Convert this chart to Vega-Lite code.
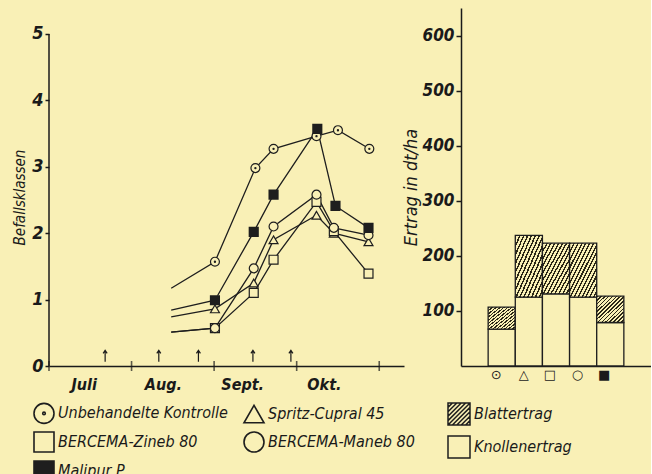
{
  "$schema": "https://vega.github.io/schema/vega-lite/v6.json",
  "background": "#f9f0b6",
  "padding": {"left": 12, "top": 8, "right": 0, "bottom": 0},
  "spacing": -13,
  "resolve": {"scale": {"shape": "independent"}, "legend": {"shape": "independent"}},
  "config": {
    "view": {"stroke": null},
    "font": "Liberation Sans Narrow, DejaVu Sans Condensed, sans-serif",
    "axis": {
      "grid": false,
      "domainColor": "#1a1a1a",
      "tickColor": "#1a1a1a",
      "labelColor": "#1a1a1a",
      "titleColor": "#1a1a1a",
      "labelFont": "Liberation Sans Narrow, DejaVu Sans Condensed, sans-serif",
      "titleFont": "Liberation Sans Narrow, DejaVu Sans Condensed, sans-serif",
      "labelFontStyle": "italic",
      "titleFontStyle": "italic",
      "labelFontWeight": "bold",
      "titleFontWeight": "normal",
      "domainWidth": 1.5,
      "tickWidth": 1.5
    },
    "legend": {
      "labelFont": "Liberation Sans Narrow, DejaVu Sans Condensed, sans-serif",
      "labelFontStyle": "italic",
      "labelColor": "#1a1a1a",
      "labelFontSize": 16,
      "labelLimit": 400,
      "padding": 0
    }
  },
  "datasets": {
    "befall": [
      {"mittel": "Unbehandelte Kontrolle", "zeit": 1.48, "befall": 1.17, "typ": "Anschluss"},
      {"mittel": "Unbehandelte Kontrolle", "zeit": 2.01, "befall": 1.57, "typ": "Messung"},
      {"mittel": "Unbehandelte Kontrolle", "zeit": 2.5, "befall": 2.98, "typ": "Messung"},
      {"mittel": "Unbehandelte Kontrolle", "zeit": 2.72, "befall": 3.27, "typ": "Messung"},
      {"mittel": "Unbehandelte Kontrolle", "zeit": 3.24, "befall": 3.46, "typ": "Messung"},
      {"mittel": "Unbehandelte Kontrolle", "zeit": 3.5, "befall": 3.55, "typ": "Messung"},
      {"mittel": "Unbehandelte Kontrolle", "zeit": 3.88, "befall": 3.27, "typ": "Messung"},
      {"mittel": "Spritz-Cupral 45", "zeit": 1.48, "befall": 0.74, "typ": "Anschluss"},
      {"mittel": "Spritz-Cupral 45", "zeit": 2.01, "befall": 0.86, "typ": "Messung"},
      {"mittel": "Spritz-Cupral 45", "zeit": 2.48, "befall": 1.25, "typ": "Messung"},
      {"mittel": "Spritz-Cupral 45", "zeit": 2.72, "befall": 1.9, "typ": "Messung"},
      {"mittel": "Spritz-Cupral 45", "zeit": 3.24, "befall": 2.27, "typ": "Messung"},
      {"mittel": "Spritz-Cupral 45", "zeit": 3.45, "befall": 2.0, "typ": "Messung"},
      {"mittel": "Spritz-Cupral 45", "zeit": 3.87, "befall": 1.87, "typ": "Messung"},
      {"mittel": "BERCEMA-Zineb 80", "zeit": 1.48, "befall": 0.51, "typ": "Anschluss"},
      {"mittel": "BERCEMA-Zineb 80", "zeit": 2.01, "befall": 0.57, "typ": "Messung"},
      {"mittel": "BERCEMA-Zineb 80", "zeit": 2.48, "befall": 1.1, "typ": "Messung"},
      {"mittel": "BERCEMA-Zineb 80", "zeit": 2.72, "befall": 1.6, "typ": "Messung"},
      {"mittel": "BERCEMA-Zineb 80", "zeit": 3.24, "befall": 2.47, "typ": "Messung"},
      {"mittel": "BERCEMA-Zineb 80", "zeit": 3.45, "befall": 2.03, "typ": "Messung"},
      {"mittel": "BERCEMA-Zineb 80", "zeit": 3.87, "befall": 1.39, "typ": "Messung"},
      {"mittel": "BERCEMA-Maneb 80", "zeit": 1.48, "befall": 0.51, "typ": "Anschluss"},
      {"mittel": "BERCEMA-Maneb 80", "zeit": 2.01, "befall": 0.57, "typ": "Messung"},
      {"mittel": "BERCEMA-Maneb 80", "zeit": 2.48, "befall": 1.47, "typ": "Messung"},
      {"mittel": "BERCEMA-Maneb 80", "zeit": 2.72, "befall": 2.1, "typ": "Messung"},
      {"mittel": "BERCEMA-Maneb 80", "zeit": 3.24, "befall": 2.58, "typ": "Messung"},
      {"mittel": "BERCEMA-Maneb 80", "zeit": 3.45, "befall": 2.08, "typ": "Messung"},
      {"mittel": "BERCEMA-Maneb 80", "zeit": 3.87, "befall": 1.97, "typ": "Messung"},
      {"mittel": "Malipur P", "zeit": 1.48, "befall": 0.84, "typ": "Anschluss"},
      {"mittel": "Malipur P", "zeit": 2.01, "befall": 0.99, "typ": "Messung"},
      {"mittel": "Malipur P", "zeit": 2.48, "befall": 2.02, "typ": "Messung"},
      {"mittel": "Malipur P", "zeit": 2.72, "befall": 2.58, "typ": "Messung"},
      {"mittel": "Malipur P", "zeit": 3.25, "befall": 3.57, "typ": "Messung"},
      {"mittel": "Malipur P", "zeit": 3.47, "befall": 2.41, "typ": "Messung"},
      {"mittel": "Malipur P", "zeit": 3.87, "befall": 2.08, "typ": "Messung"}
    ],
    "ertrag": [
      {"mittel": "⊙", "teil": "Knollenertrag", "ertrag": 67},
      {"mittel": "⊙", "teil": "Blattertrag", "ertrag": 40},
      {"mittel": "△", "teil": "Knollenertrag", "ertrag": 125},
      {"mittel": "△", "teil": "Blattertrag", "ertrag": 112},
      {"mittel": "□", "teil": "Knollenertrag", "ertrag": 131},
      {"mittel": "□", "teil": "Blattertrag", "ertrag": 92},
      {"mittel": "○", "teil": "Knollenertrag", "ertrag": 125},
      {"mittel": "○", "teil": "Blattertrag", "ertrag": 98},
      {"mittel": "■", "teil": "Knollenertrag", "ertrag": 79},
      {"mittel": "■", "teil": "Blattertrag", "ertrag": 48}
    ]
  },
  "hconcat": [
    {
      "width": 355,
      "height": 358,
      "data": {"name": "befall"},
      "layer": [
        {
          "transform": [{"filter": "datum.typ === 'Messung'"}],
          "mark": {"type": "point", "size": 0, "filled": false, "stroke": "#1e1e1e"},
          "encoding": {
            "x": {"field": "zeit", "type": "quantitative"},
            "y": {"datum": 0, "type": "quantitative"},
            "shape": {
              "field": "mittel", "type": "nominal",
              "scale": {
                "domain": ["Unbehandelte Kontrolle", "Spritz-Cupral 45", "BERCEMA-Zineb 80", "BERCEMA-Maneb 80", "Malipur P"],
                "range": [
                  "M-1,0A1,1,0,1,1,1,0A1,1,0,1,1,-1,0ZM-0.13,0A0.13,0.13,0,1,1,0.13,0A0.13,0.13,0,1,1,-0.13,0Z",
                  "triangle-up",
                  "square",
                  "circle",
                  "M-1,-1H1V1H-1ZM-1,-0.84H1M-1,-0.7H1M-1,-0.56H1M-1,-0.42H1M-1,-0.28H1M-1,-0.14H1M-1,0H1M-1,0.14H1M-1,0.28H1M-1,0.42H1M-1,0.56H1M-1,0.7H1M-1,0.84H1"
                ]
              },
              "legend": {
                "title": null, "orient": "none", "legendX": -16, "legendY": 394,
                "direction": "horizontal",
                "columns": 2, "columnPadding": 12, "rowPadding": 1,
                "symbolSize": 400, "symbolOpacity": 1,
                "symbolStrokeColor": "#1e1e1e", "symbolFillColor": "#f9f0b6", "symbolStrokeWidth": 1.6,
                "labelOffset": 3
              }
            }
          }
        },
        {
          "mark": {"type": "line", "color": "#1e1e1e", "strokeWidth": 1.3},
          "encoding": {
            "x": {
              "field": "zeit", "type": "quantitative",
              "scale": {"domain": [0, 4.3], "nice": false, "zero": false},
              "axis": {
                "title": null,
                "values": [0.42, 1.38, 2.34, 3.33],
                "labelExpr": "datum.value < 1 ? 'Juli' : datum.value < 2 ? 'Aug.' : datum.value < 3 ? 'Sept.' : 'Okt.'",
                "ticks": false,
                "tickSize": 0,
                "labelPadding": 10,
                "labelFontSize": 16
              }
            },
            "y": {
              "field": "befall", "type": "quantitative",
              "scale": {"domain": [0, 5.39], "nice": false},
              "axis": {
                "title": "Befallsklassen",
                "titleFontSize": 15,
                "titlePadding": 4,
                "titleY": 189,
                "values": [0, 1, 2, 3, 4, 5],
                "format": "d",
                "domain": false,
                "tickSize": 4,
                "labelPadding": 2,
                "labelFontSize": 18
              }
            },
            "detail": {"field": "mittel"},
            "order": {"field": "zeit"}
          }
        },
        {
          "data": {"values": [{"von": 0, "bis": 5}]},
          "mark": {"type": "rule", "color": "#1a1a1a", "strokeWidth": 1.5},
          "encoding": {
            "x": {"datum": 0, "type": "quantitative"},
            "y": {"field": "von", "type": "quantitative"},
            "y2": {"field": "bis"}
          }
        },
        {
          "data": {"values": [{"grenze": 0}, {"grenze": 1}, {"grenze": 2}, {"grenze": 3}, {"grenze": 4}]},
          "mark": {"type": "tick", "orient": "vertical", "color": "#1a1a1a", "size": 10, "thickness": 1.6},
          "encoding": {
            "x": {"field": "grenze", "type": "quantitative"},
            "y": {"datum": 0, "type": "quantitative"}
          }
        },
        {
          "data": {"values": [{"spritzung": 0.68}, {"spritzung": 1.33}, {"spritzung": 1.81}, {"spritzung": 2.47}, {"spritzung": 2.93}]},
          "mark": {"type": "point", "shape": "M0,-1L0,1M-0.35,-0.45L0,-1L0.35,-0.45", "size": 130, "yOffset": -10, "stroke": "#1a1a1a", "strokeWidth": 1.2, "filled": false, "opacity": 1},
          "encoding": {
            "x": {"field": "spritzung", "type": "quantitative"},
            "y": {"datum": 0, "type": "quantitative"}
          }
        },
        {
          "transform": [{"filter": "datum.typ === 'Messung'"}],
          "mark": {"type": "point", "filled": true, "fill": "#f9f0b6", "stroke": "#1e1e1e", "strokeWidth": 1.2, "size": 80, "opacity": 1},
          "encoding": {
            "x": {"field": "zeit", "type": "quantitative"},
            "y": {"field": "befall", "type": "quantitative"},
            "shape": {
              "field": "mittel", "type": "nominal",
              "legend": null
            }
          }
        }
      ]
    },
    {
      "width": 190,
      "height": 358,
      "data": {"name": "ertrag"},
      "layer": [
        {
          "mark": {"type": "point", "size": 0, "filled": false, "stroke": "#1e1e1e"},
          "encoding": {
            "x": {"field": "mittel", "type": "nominal"},
            "y": {"datum": 0, "type": "quantitative"},
            "shape": {
              "field": "teil", "type": "nominal",
              "scale": {
                "domain": ["Blattertrag", "Knollenertrag"],
                "range": [
                  "M-1,-1H1V1H-1ZM-1,-0.6L-0.6,-1M-1,-0.2L-0.2,-1M-1,0.2L0.2,-1M-1,0.6L0.6,-1M-1,1L1,-1M-0.6,1L1,-0.6M-0.2,1L1,-0.2M0.2,1L1,0.2M0.6,1L1,0.6",
                  "square"
                ]
              },
              "legend": {
                "title": null, "orient": "none", "legendX": -14, "legendY": 394,
                "symbolSize": 484, "symbolOpacity": 1,
                "symbolStrokeColor": "#1e1e1e", "symbolFillColor": "#f9f0b6", "symbolStrokeWidth": 1.5,
                "rowPadding": 5, "labelOffset": 3
              }
            }
          }
        },
        {
          "mark": {"type": "bar", "stroke": "#1e1e1e", "strokeWidth": 1.3},
          "encoding": {
            "x": {
              "field": "mittel", "type": "nominal",
              "scale": {"domain": [" ", "⊙", "△", "□", "○", "■", "  "], "paddingInner": 0, "paddingOuter": 0},
              "axis": {
                "title": null, "ticks": false, "tickSize": 0, "labelAngle": 0,
                "labelFont": "DejaVu Sans", "labelFontStyle": "normal", "labelFontWeight": "normal",
                "labelFontSize": 13, "labelPadding": 8
              }
            },
            "y": {
              "field": "ertrag", "type": "quantitative", "stack": "zero",
              "scale": {"domain": [0, 650], "nice": false},
              "axis": {
                "title": "Ertrag in dt/ha", "titleFontSize": 18, "titlePadding": 2,
                "values": [100, 200, 300, 400, 500, 600],
                "tickSize": 5, "labelPadding": 2, "labelFontSize": 17
              }
            },
            "fill": {
              "condition": {
                "test": "datum.teil === 'Blattertrag'",
                "value": {"gradient": "linear", "x1": 0, "y1": 0, "x2": 1, "y2": 1, "stops": [
                  {"offset": 0, "color": "#2b2716"}, {"offset": 0.029, "color": "#2b2716"}, {"offset": 0.029, "color": "#f9f0b6"}, {"offset": 0.0714, "color": "#f9f0b6"},
                  {"offset": 0.0714, "color": "#2b2716"}, {"offset": 0.1, "color": "#2b2716"}, {"offset": 0.1, "color": "#f9f0b6"}, {"offset": 0.1429, "color": "#f9f0b6"},
                  {"offset": 0.1429, "color": "#2b2716"}, {"offset": 0.1714, "color": "#2b2716"}, {"offset": 0.1714, "color": "#f9f0b6"}, {"offset": 0.2143, "color": "#f9f0b6"},
                  {"offset": 0.2143, "color": "#2b2716"}, {"offset": 0.2429, "color": "#2b2716"}, {"offset": 0.2429, "color": "#f9f0b6"}, {"offset": 0.2857, "color": "#f9f0b6"},
                  {"offset": 0.2857, "color": "#2b2716"}, {"offset": 0.3143, "color": "#2b2716"}, {"offset": 0.3143, "color": "#f9f0b6"}, {"offset": 0.3571, "color": "#f9f0b6"},
                  {"offset": 0.3571, "color": "#2b2716"}, {"offset": 0.3857, "color": "#2b2716"}, {"offset": 0.3857, "color": "#f9f0b6"}, {"offset": 0.4286, "color": "#f9f0b6"},
                  {"offset": 0.4286, "color": "#2b2716"}, {"offset": 0.4571, "color": "#2b2716"}, {"offset": 0.4571, "color": "#f9f0b6"}, {"offset": 0.5, "color": "#f9f0b6"},
                  {"offset": 0.5, "color": "#2b2716"}, {"offset": 0.5286, "color": "#2b2716"}, {"offset": 0.5286, "color": "#f9f0b6"}, {"offset": 0.5714, "color": "#f9f0b6"},
                  {"offset": 0.5714, "color": "#2b2716"}, {"offset": 0.6, "color": "#2b2716"}, {"offset": 0.6, "color": "#f9f0b6"}, {"offset": 0.6429, "color": "#f9f0b6"},
                  {"offset": 0.6429, "color": "#2b2716"}, {"offset": 0.6714, "color": "#2b2716"}, {"offset": 0.6714, "color": "#f9f0b6"}, {"offset": 0.7143, "color": "#f9f0b6"},
                  {"offset": 0.7143, "color": "#2b2716"}, {"offset": 0.7429, "color": "#2b2716"}, {"offset": 0.7429, "color": "#f9f0b6"}, {"offset": 0.7857, "color": "#f9f0b6"},
                  {"offset": 0.7857, "color": "#2b2716"}, {"offset": 0.8143, "color": "#2b2716"}, {"offset": 0.8143, "color": "#f9f0b6"}, {"offset": 0.8571, "color": "#f9f0b6"},
                  {"offset": 0.8571, "color": "#2b2716"}, {"offset": 0.8857, "color": "#2b2716"}, {"offset": 0.8857, "color": "#f9f0b6"}, {"offset": 0.9286, "color": "#f9f0b6"},
                  {"offset": 0.9286, "color": "#2b2716"}, {"offset": 0.9571, "color": "#2b2716"}, {"offset": 0.9571, "color": "#f9f0b6"}, {"offset": 1, "color": "#f9f0b6"}
                ]}
              },
              "value": "#f9f0b6"
            },
            "order": {"field": "teil", "sort": "descending"}
          }
        }
      ]
    }
  ]
}
